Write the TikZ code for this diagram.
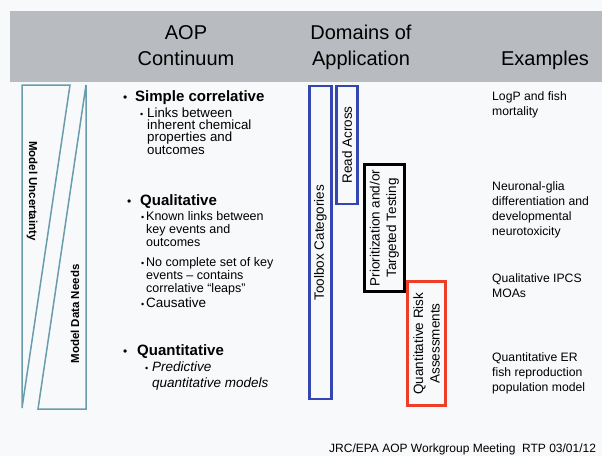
\documentclass[tikz,border=0pt]{standalone}
\usepackage{fontspec}
\setmainfont{Liberation Sans}
\definecolor{bandgray}{HTML}{B8BBBF}
\definecolor{bgcol}{HTML}{F8F9FB}
\definecolor{teal}{HTML}{6A9DAC}
\definecolor{boxblue}{HTML}{3446B2}
\definecolor{boxred}{HTML}{EE3E28}
\newcommand\mylines[2]{\parbox[t]{#1}{\raggedright #2}}
\begin{document}
\begin{tikzpicture}[x=1pt,y=-1pt,
  hdr/.style={font=\fontsize{20}{20}\selectfont, inner sep=0, anchor=base},
  mainitem/.style={font=\bfseries\fontsize{15}{15}\selectfont, inner sep=0, anchor=base west},
  bigdot/.style={font=\fontsize{12}{12}\selectfont, inner sep=0, anchor=base west},
  smalldot/.style={font=\fontsize{9}{9}\selectfont, inner sep=0, anchor=base west},
  subitem/.style={font=\fontsize{12.5}{12.5}\selectfont, inner sep=0, anchor=base west},
  example/.style={font=\fontsize{12.2}{15}\selectfont, inner sep=0, anchor=base west},
  dombox/.style={rotate=90, font=\fontsize{13.5}{16.5}\selectfont, align=center, inner sep=0, line width=2.5pt},
  tri/.style={draw=teal, line width=1.5pt, line join=miter},
  sidelabel/.style={font=\bfseries\fontsize{11.5}{11.5}\selectfont, inner sep=0}
]
\useasboundingbox (0,0) rectangle (602,456);
\fill[bgcol] (0,0) rectangle (602,456);
\fill[bandgray] (10,11) rectangle (602,82);

% header
\node[hdr] (h1a) at (186,39) {AOP};
\node[hdr] (h1b) at (186,65) {Continuum};
\node[hdr] (h2a) at (361,39) {Domains of};
\node[hdr] (h2b) at (361,65) {Application};
\node[hdr] (h3) at (545,65) {Examples};

% left triangles
\draw[tri] (22,85) -- (70,85) -- (22,408) -- cycle;
\draw[tri] (86,85) -- (86,409) -- (38,409) -- cycle;
\node[sidelabel, rotate=-90] (unc) at (32,191) {Model Uncertainty};
\node[sidelabel, rotate=90] (need) at (75,314) {Model Data Needs};

% AOP continuum bullets
\node[bigdot] (b1) at (123,101) {•};
\node[mainitem] (t1) at (135,101) {Simple correlative};
\node[smalldot] (b1a) at (140,117) {•};
\node[subitem,font=\fontsize{13.3}{12.4}\selectfont] (t1a) at (147,117) {\mylines{4cm}{Links between\\inherent chemical\\properties and\\outcomes}};

\node[bigdot] (b2) at (127,205) {•};
\node[mainitem] (t2) at (140,205) {Qualitative};
\node[smalldot] (b2a) at (141,220) {•};
\node[subitem,font=\fontsize{12.5}{13}\selectfont] (t2a) at (146,220) {\mylines{5cm}{Known links between\\key events and\\outcomes}};
\node[smalldot] (b2b) at (141,266) {•};
\node[subitem,font=\fontsize{12.5}{13}\selectfont] (t2b) at (146,266) {\mylines{5cm}{No complete set of key\\events -- contains\\correlative “leaps”}};
\node[smalldot] (b2c) at (141,307) {•};
\node[subitem,font=\fontsize{13.5}{13.5}\selectfont] (t2c) at (146,307) {Causative};

\node[bigdot] (b3) at (123,355) {•};
\node[mainitem] (t3) at (137,355) {Quantitative};
\node[smalldot] (b3a) at (145,371) {•};
\node[subitem,font=\itshape\fontsize{13.5}{16}\selectfont] (t3a) at (152,371) {\mylines{5cm}{Predictive\\quantitative models}};

% domains of application
\node[dombox, draw=boxblue, minimum width=313, minimum height=22] (toolbox) at (320.5,242.5) {Toolbox Categories};
\node[dombox, draw=boxblue, minimum width=118, minimum height=21] (readacross) at (347,145) {Read Across};
\node[dombox, draw=black, line width=3pt, minimum width=127, minimum height=40] (prio) at (384.5,228) {Prioritization and/or\\Targeted Testing};
\node[dombox, draw=boxred, minimum width=124, minimum height=38] (qra) at (426.5,343.5) {Quantitative Risk\\Assessments};

% examples
\node[example] (e1) at (492,100) {\mylines{4cm}{LogP and fish\\mortality}};
\node[example] (e2) at (492,190) {\mylines{4cm}{Neuronal-glia\\differentiation and\\developmental\\neurotoxicity}};
\node[example] (e3) at (492,282) {\mylines{4cm}{Qualitative IPCS\\MOAs}};
\node[example] (e4) at (492,361) {\mylines{4cm}{Quantitative ER\\fish reproduction\\population model}};

% footer
\node[inner sep=0, anchor=base west, font=\fontsize{12}{12}\selectfont] (foot) at (329,452) {JRC/EPA AOP Workgroup Meeting\ \ RTP 03/01/12};
\end{tikzpicture}
\end{document}
